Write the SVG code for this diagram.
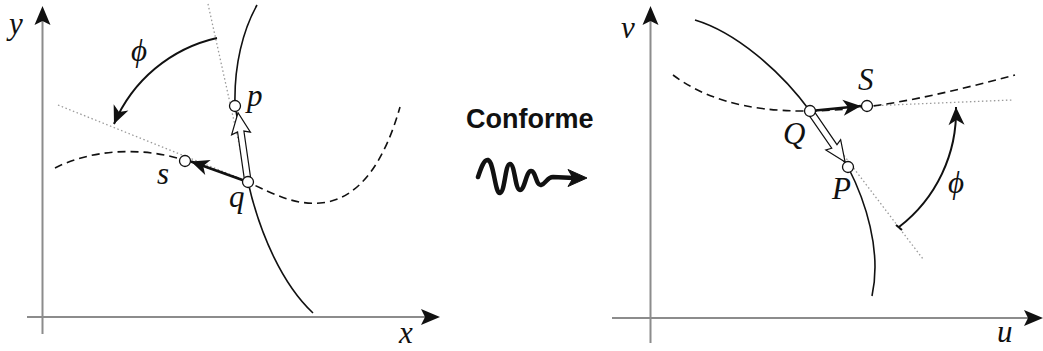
<svg xmlns="http://www.w3.org/2000/svg" width="1043" height="351" viewBox="0 0 1043 351">
<defs>
<style>
.axis{stroke:#8c8c8c;stroke-width:2;fill:none}
.ahd{fill:#111}
.curve{stroke:#111;stroke-width:1.6;fill:none}
.dash{stroke:#111;stroke-width:1.6;fill:none;stroke-dasharray:8 5}
.dot{stroke:#9a9a9a;stroke-width:1.3;fill:none;stroke-dasharray:1.5 2.5}
.arc{stroke:#111;stroke-width:2;fill:none}
.bold{stroke:#111;stroke-width:2.6;fill:none}
.hollow{fill:#fff;stroke:#111;stroke-width:1.2;stroke-linejoin:miter}
.pt{fill:#fff;stroke:#111;stroke-width:1.3}
.lab{font-family:"Liberation Serif","Times New Roman",serif;font-style:italic;font-size:31px;fill:#111}
.title{font-family:"Liberation Sans",Arial,sans-serif;font-weight:bold;font-size:27px;fill:#111}
</style>
<marker id="ah" markerUnits="userSpaceOnUse" viewBox="-20 -10 22 20" refX="0" refY="0" markerWidth="22" markerHeight="20" orient="auto">
<path d="M0,0 L-18,-8 L-13,0 L-18,8 Z" fill="#111"/>
</marker>
</defs>

<g id="left-axes">
<line class="axis" x1="42.5" y1="334" x2="42.5" y2="20"/>
<path class="ahd" d="M42.5,6 L50.5,25 L42.5,21 L34.5,25 Z"/>
<line class="axis" x1="27" y1="317" x2="426" y2="317"/>
<path class="ahd" d="M440,317 L421,309 L425,317 L421,325 Z"/>
<text class="lab" x="9" y="34">y</text>
<text class="lab" x="399" y="343">x</text>
</g>

<g id="right-axes">
<line class="axis" x1="650.5" y1="343" x2="650.5" y2="20"/>
<path class="ahd" d="M650.5,6 L658.5,25 L650.5,21 L642.5,25 Z"/>
<line class="axis" x1="612" y1="318" x2="1030" y2="318"/>
<path class="ahd" d="M1043,318 L1024,310 L1028,318 L1024,326 Z"/>
<text class="lab" x="621" y="38">v</text>
<text class="lab" x="997" y="342">u</text>
</g>

<g id="connectors">
<!-- left panel -->
<line class="dot" x1="208" y1="4" x2="246" y2="175"/>
<line class="dot" x1="58" y1="105" x2="244" y2="180"/>
<path class="curve" d="M257,5 C243,30 234,65 235,105 L248,182 C260,235 283,285 313,313"/>
<path class="dash" d="M55,168 C90,150 140,146 184,160 C210,168 230,175 248,182 C275,195 295,205 320,203 C360,200 385,160 400,107"/>
<path class="arc" d="M217,38 A147,147 0 0 0 114,124" marker-end="url(#ah)"/>
<line class="bold" x1="248" y1="182" x2="191" y2="161.5" marker-end="url(#ah)"/>
<g transform="translate(248,182) rotate(-98.2)">
<path class="hollow" d="M0,-3.2 L51,-3.2 L49,-9.5 L70,0 L49,9.5 L51,3.2 L0,3.2 Z"/>
</g>
<!-- right panel -->
<line class="dot" x1="866" y1="106" x2="1012" y2="100"/>
<line class="dot" x1="810" y1="111" x2="923" y2="259"/>
<path class="curve" d="M695,20 C735,32 780,70 810,111 L848,167 C865,200 882,250 872,296"/>
<path class="dash" d="M673,75 C700,95 740,112 810,111 C880,110 950,92 1015,75"/>
<path class="arc" d="M899,227 A146,146 0 0 0 956,107" marker-end="url(#ah)"/>
<line class="arc" x1="896" y1="225" x2="902" y2="230" stroke-width="1.2"/>
<line class="bold" x1="810" y1="111" x2="861" y2="106" marker-end="url(#ah)"/>
<g transform="translate(810,111) rotate(55.5)">
<path class="hollow" d="M0,-3.2 L43,-3.2 L41,-9 L62,0 L41,9 L43,3.2 L0,3.2 Z"/>
</g>
<!-- middle squiggle -->
<path d="M478,177 C481,168 484,159 488,160 C494,162 495,194 500,193 C505,192 505,164 510,164 C515,164 515,190 520,190 C525,190 526,171 531,171 C536,171 536,186 541,185 C546,184 547,177 553,177 L574,178" fill="none" stroke="#111" stroke-width="4.5" stroke-linecap="round" stroke-linejoin="round"/>
<path d="M587,178 L568,169.5 L573,178 L568,186.5 Z" fill="#111" stroke="#111" stroke-width="1" stroke-linejoin="round"/>
</g>

<g id="node-p"><circle class="pt" cx="235" cy="106" r="5.5"/><text class="lab" x="247" y="106">p</text></g>
<g id="node-q"><circle class="pt" cx="248" cy="182" r="5.5"/><text class="lab" x="229" y="207">q</text></g>
<g id="node-s"><circle class="pt" cx="185" cy="161" r="5.5"/><text class="lab" x="157" y="184">s</text></g>
<g id="label-phi-left"><text class="lab" x="131" y="61">ϕ</text></g>

<g id="node-Q"><circle class="pt" cx="810" cy="111" r="5.5"/><text class="lab" x="783" y="144">Q</text></g>
<g id="node-S"><circle class="pt" cx="867" cy="106" r="5.5"/><text class="lab" x="858" y="90">S</text></g>
<g id="node-P"><circle class="pt" cx="848" cy="167" r="5.5"/><text class="lab" x="832" y="199">P</text></g>
<g id="label-phi-right"><text class="lab" x="948" y="193">ϕ</text></g>

<g id="title"><text class="title" x="466" y="128">Conforme</text></g>
</svg>
